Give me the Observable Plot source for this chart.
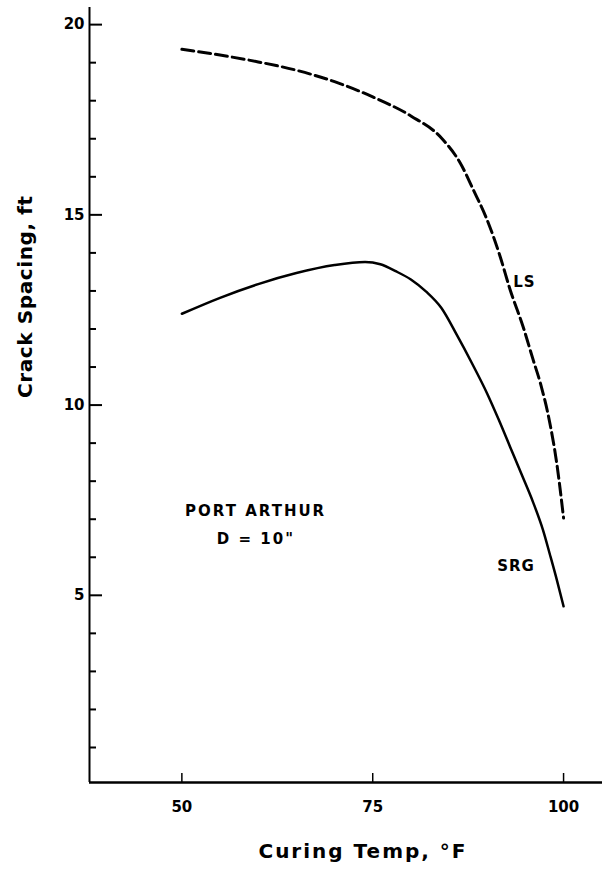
<!DOCTYPE html>
<html>
<head>
<meta charset="utf-8">
<script src="https://cdn.jsdelivr.net/npm/d3@7"></script>
<script src="https://cdn.jsdelivr.net/npm/@observablehq/plot@0.6"></script>
<style>
  html, body { margin: 0; padding: 0; background: #fff; }
</style>
</head>
<body>
<div id="chart"></div>
<script>
// Curing temperature (°F) and crack spacing (ft) for the two aggregates
const lsTemp = [50, 55, 60, 65, 70, 75, 80, 84, 86.5, 88.2, 90, 91.7, 93, 94.7, 96, 97, 98.2, 99.1, 100];
const lsSpacing = [19.35, 19.2, 19.02, 18.8, 18.5, 18.1, 17.6, 17.02, 16.35, 15.65, 14.86, 13.9, 13.03, 12.06, 11.2, 10.55, 9.53, 8.48, 7.03];

const srgTemp = [50, 55, 60, 65, 70, 74, 76, 78, 80, 82, 84, 86, 88, 90, 91.5, 93, 94.5, 96, 97.3, 98.2, 99.1, 100];
const srgSpacing = [12.4, 12.82, 13.18, 13.47, 13.68, 13.76, 13.7, 13.52, 13.3, 12.98, 12.55, 11.85, 11.1, 10.3, 9.62, 8.9, 8.18, 7.45, 6.72, 6.08, 5.42, 4.71];

// Axis ticks
const xTicks = [50, 75, 100];
const yMajor = [5, 10, 15, 20];
const yMinor = [1, 2, 3, 4, 6, 7, 8, 9, 11, 12, 13, 14, 16, 17, 18, 19];

// Scale extents
const xDomain = [37.9, 105.1];
const yDomain = [0.08, 20.45];

// Annotations
const curveLabels = [
  {name: "LS", temp: 93.4, spacing: 13.24},
  {name: "SRG", temp: 91.3, spacing: 5.76}
];
const siteLabels = [
  {text: "PORT ARTHUR", temp: 59.66, spacing: 7.2},
  {text: "D = 10\"", temp: 59.7, spacing: 6.48}
];
const xTitle = "Curing Temp, °F";
const yTitle = "Crack Spacing, ft";

const ls = lsTemp.map((t, i) => ({temp: t, spacing: lsSpacing[i]}));
const srg = srgTemp.map((t, i) => ({temp: t, spacing: srgSpacing[i]}));

const chart = Plot.plot({
  width: 602,
  height: 871,
  marginLeft: 89,
  marginRight: 0,
  marginTop: 7,
  marginBottom: 89,
  style: {fontFamily: "DejaVu Sans", background: "#fff", color: "#000"},
  x: {domain: xDomain},
  y: {domain: yDomain},
  marks: [
    // axis lines
    Plot.ruleX([xDomain[0]], {strokeWidth: 2}),
    Plot.ruleY([yDomain[0]], {strokeWidth: 2.5}),
    // inward ticks
    Plot.axisY(yMajor, {tickSize: 13, dx: 13, fill: "none", label: null, strokeWidth: 2}),
    Plot.axisY(yMinor, {tickSize: 7, dx: 7, fill: "none", label: null, strokeWidth: 2}),
    Plot.axisX(xTicks, {tickSize: 9, dy: -9, fill: "none", label: null, strokeWidth: 1.5}),
    // tick labels
    Plot.axisY(yMajor, {tickSize: 0, tickPadding: 5, fontSize: 15, fontWeight: "bold", label: null}),
    Plot.axisX(xTicks, {tickSize: 0, tickPadding: 19, fontSize: 15, fontWeight: "bold", label: null}),
    // axis titles
    Plot.text([yTitle], {frameAnchor: "left", dx: -64, dy: 3, rotate: -90, fontSize: 20, fontWeight: "bold"}),
    Plot.text([xTitle], {frameAnchor: "bottom", dx: 17, dy: 75, fontSize: 20, fontWeight: "bold"}),
    // curves
    Plot.line(ls, {x: "temp", y: "spacing", curve: "monotone-x", strokeWidth: 3, strokeDasharray: "12,5"}),
    Plot.line(srg, {x: "temp", y: "spacing", curve: "monotone-x", strokeWidth: 2.5}),
    // labels
    Plot.text(curveLabels, {x: "temp", y: "spacing", text: "name", textAnchor: "start", fontSize: 15, fontWeight: "bold"}),
    Plot.text(siteLabels, {x: "temp", y: "spacing", text: "text", fontSize: 15, fontWeight: "bold"})
  ]
});

// letter tracking for the typewriter-like lettering
const tracking = new Map([
  [xTitle, "2px"], [yTitle, "0.6px"],
  ["PORT ARTHUR", "2px"], ["D = 10\"", "2px"], ["LS", "1px"], ["SRG", "1px"]
]);
d3.select(chart).selectAll("text").each(function () {
  const s = tracking.get(this.textContent);
  if (s) this.style.letterSpacing = s;
});

document.getElementById("chart").appendChild(chart);
</script>
</body>
</html>
